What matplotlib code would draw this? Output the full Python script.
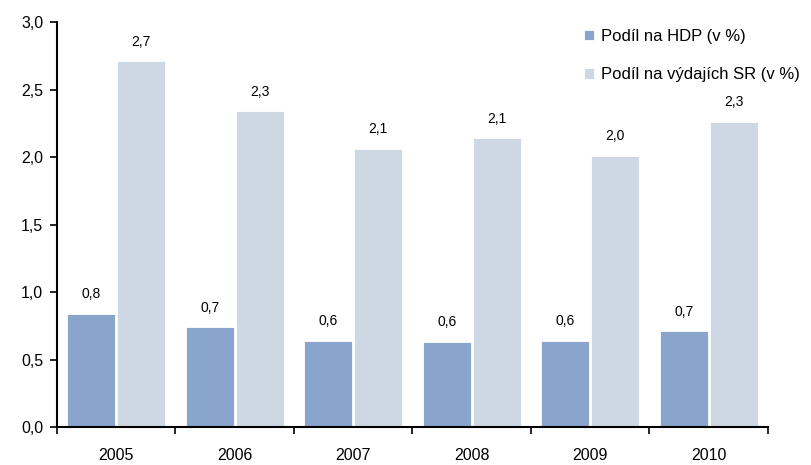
import numpy as np
import matplotlib
matplotlib.use("Agg")
from matplotlib import pyplot as plt
from matplotlib.ticker import FuncFormatter

plt.rcParams['font.family'] = ['Liberation Sans', 'DejaVu Sans']

years = ['2005', '2006', '2007', '2008', '2009', '2010']
hdp = [0.84, 0.74, 0.64, 0.63, 0.64, 0.71]
sr = [2.71, 2.34, 2.06, 2.14, 2.01, 2.26]
series_names = ['Podíl na HDP (v %)', 'Podíl na výdajích SR (v %)']
colors = ['#8aa5cb', '#cdd8e4']

fig = plt.figure(figsize=(8.12, 4.65), dpi=100)
ax = fig.add_axes([57 / 812, 38 / 465, 711 / 812, 405 / 465])

x = np.arange(len(years))
w = 0.405
b1 = ax.bar(x - 0.21, hdp, w, color=colors[0], edgecolor='white', linewidth=0.6,
            label=series_names[0])
b2 = ax.bar(x + 0.21, sr, w, color=colors[1], edgecolor='white', linewidth=0.6,
            label=series_names[1])

for bars in (b1, b2):
    for bar in bars:
        h = bar.get_height()
        ax.annotate(('%.1f' % h).replace('.', ','),
                    (bar.get_x() + bar.get_width() / 2, h),
                    xytext=(0, 9), textcoords='offset points',
                    ha='center', va='bottom', fontsize=10)

ax.set_xlim(-0.5, len(years) - 0.5)
ax.set_ylim(0, 3.0)
ax.set_yticks(np.arange(0, 3.01, 0.5))
ax.yaxis.set_major_formatter(FuncFormatter(lambda v, p: ('%.1f' % v).replace('.', ',')))
ax.set_xticks(x)
ax.set_xticklabels(years)
ax.set_xticks(np.arange(-0.5, len(years)), minor=True)
ax.tick_params(axis='x', which='major', length=0, pad=15, labelsize=11.5)
ax.tick_params(axis='x', which='minor', length=5, width=1.2)
ax.tick_params(axis='y', length=5, width=1.2, labelsize=11.5, pad=5)

for s in ('top', 'right'):
    ax.spines[s].set_visible(False)
for s in ('left', 'bottom'):
    ax.spines[s].set_linewidth(1.5)

ax.legend(loc='upper left', bbox_to_anchor=(0.72, 1.02), frameon=False,
          handlelength=0.6, handleheight=0.6, handletextpad=0.4,
          labelspacing=1.4, fontsize=12)

fig.savefig('out.png', dpi=100)
